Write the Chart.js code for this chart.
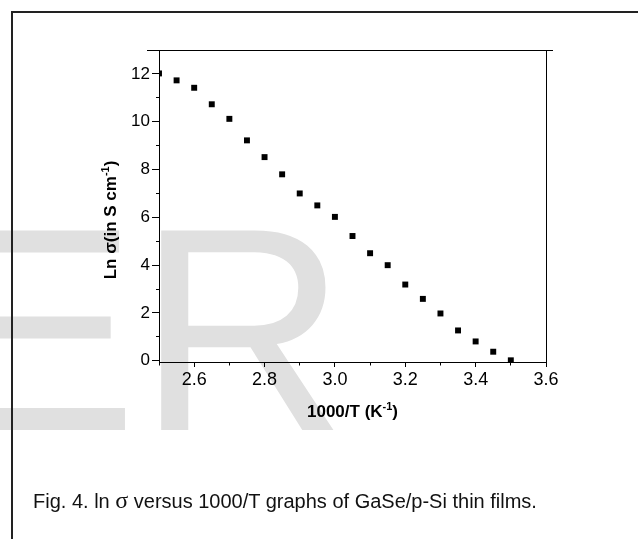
<!DOCTYPE html>
<html>
<head>
<meta charset="utf-8">
<title>Ln sigma versus 1000/T</title>
<script src="https://cdn.jsdelivr.net/npm/chart.js@4.4.0/dist/chart.umd.min.js"></script>
<style>
    html, body { margin: 0; padding: 0; background: #fff; }
    body { width: 638px; height: 539px; position: relative; overflow: hidden; font-family: 'Liberation Sans', Arial, sans-serif; }
    #watermark { position: absolute; left: -56px; top: 184px; font-size: 290px; line-height: 290px; color: #e0e0e0; white-space: nowrap; }
    #frame { position: absolute; left: 11px; top: 11px; right: -10px; bottom: -10px; border-left: 2px solid #222; border-top: 2px solid #222; }
    #chartBox { position: absolute; left: 0; top: 0; width: 638px; height: 539px; }
    #caption { position: absolute; left: 33px; top: 490px; font-size: 20px; line-height: 20px; color: #111; white-space: nowrap; }
    #caption .sym { font-family: 'Liberation Serif', serif; font-size: 24px; }
</style>
</head>
<body>
<div id="watermark">ER</div>
<div id="frame"></div>
<div id="chartBox"><canvas id="condChart" width="638" height="539"></canvas></div>
<div id="caption">Fig. 4. ln <span class="sym">σ</span> versus 1000/T graphs of GaSe/p-Si thin films.</div>

<script>
// Data
const inverseTemp = [2.50, 2.55, 2.60, 2.65, 2.70, 2.75, 2.80, 2.85, 2.90, 2.95, 3.00,
                     3.05, 3.10, 3.15, 3.20, 3.25, 3.30, 3.35, 3.40, 3.45, 3.50];
const lnSigma = [12.02, 11.73, 11.42, 10.73, 10.12, 9.22, 8.52, 7.80, 7.00, 6.50, 6.02,
                 5.22, 4.50, 4.00, 3.19, 2.59, 1.98, 1.27, 0.81, 0.38, 0.02];

// Axis ranges and titles
const xRange = [2.5, 3.6];
const yRange = [-0.05, 13];
const xTitle = [{ text: '1000/T (K' }, { text: '-1', sup: true }, { text: ')' }];
const yTitle = [{ text: 'Ln σ(in S cm' }, { text: '-1', sup: true }, { text: ')' }];

const FONT = "'Liberation Sans', Arial, sans-serif";

document.addEventListener('DOMContentLoaded', function () {
    /**
     * Draw a bold label with superscript parts, centred on cx
     */
    function drawSupLabel(ctx, parts, cx, baseline) {
        const mainFont = 'bold 17px ' + FONT;
        const supFont = 'bold 11px ' + FONT;
        let total = 0;
        parts.forEach(p => {
            ctx.font = p.sup ? supFont : mainFont;
            p.w = ctx.measureText(p.text).width;
            total += p.w;
        });
        let x = cx - total / 2;
        ctx.textAlign = 'left';
        ctx.textBaseline = 'alphabetic';
        parts.forEach(p => {
            ctx.font = p.sup ? supFont : mainFont;
            ctx.fillText(p.text, x, p.sup ? baseline - 7 : baseline);
            x += p.w;
        });
    }

    // Top / right frame lines and the two axis titles
    const framePlugin = {
        id: 'frameAndTitles',
        afterDraw(chart) {
            const { ctx, chartArea } = chart;
            ctx.save();
            ctx.strokeStyle = '#000';
            ctx.lineWidth = 1;
            ctx.beginPath();
            ctx.moveTo(chartArea.left - 12, chartArea.top + 0.5);
            ctx.lineTo(chartArea.right + 7, chartArea.top + 0.5);
            ctx.moveTo(chartArea.right + 0.5, chartArea.top);
            ctx.lineTo(chartArea.right + 0.5, chartArea.bottom);
            ctx.stroke();

            ctx.fillStyle = '#000';
            drawSupLabel(ctx, xTitle, (chartArea.left + chartArea.right) / 2, chartArea.bottom + 55);

            ctx.translate(chartArea.left - 43, 220);
            ctx.rotate(-Math.PI / 2);
            drawSupLabel(ctx, yTitle, 0, 0);
            ctx.restore();
        }
    };

    const isMajorX = v => Math.round(v * 10) % 2 === 0;
    const isMajorY = v => Math.round(v) % 2 === 0;

    new Chart(document.getElementById('condChart'), {
        type: 'scatter',
        data: {
            datasets: [{
                data: inverseTemp.map((x, i) => ({ x: x, y: lnSigma[i] })),
                pointStyle: 'rect',
                pointRadius: 4.2,
                backgroundColor: '#000',
                borderWidth: 0,
                clip: 0
            }]
        },
        options: {
            responsive: false,
            animation: false,
            devicePixelRatio: 1,
            events: [],
            layout: { padding: { top: 50, right: 92, left: 0, bottom: 0 } },
            plugins: {
                legend: { display: false },
                tooltip: { enabled: false }
            },
            scales: {
                x: {
                    type: 'linear',
                    position: 'bottom',
                    min: xRange[0],
                    max: xRange[1],
                    afterFit: scale => { scale.height = 177; },
                    border: { color: '#000', width: 1 },
                    grid: {
                        drawOnChartArea: false,
                        tickLength: 5,
                        tickColor: '#000',
                        tickBorderDash: c => isMajorX(c.tick.value) ? [] : [2.5, 20]
                    },
                    ticks: {
                        stepSize: 0.1,
                        autoSkip: false,
                        maxRotation: 0,
                        padding: 2,
                        color: '#000',
                        font: { family: FONT, size: 18 },
                        callback: v => isMajorX(v) ? v.toFixed(1) : ''
                    }
                },
                y: {
                    type: 'linear',
                    min: yRange[0],
                    max: yRange[1],
                    afterFit: scale => { scale.width = 159; },
                    border: { color: '#000', width: 1 },
                    grid: {
                        drawOnChartArea: false,
                        tickLength: 7,
                        tickColor: '#000',
                        tickBorderDash: c => isMajorY(c.tick.value) ? [] : [0, 4, 3, 20]
                    },
                    ticks: {
                        stepSize: 1,
                        includeBounds: false,
                        padding: 2,
                        color: '#000',
                        font: { family: FONT, size: 17 },
                        callback: v => isMajorY(v) ? String(v) : ''
                    }
                }
            }
        },
        plugins: [framePlugin]
    });
});
</script>
</body>
</html>
